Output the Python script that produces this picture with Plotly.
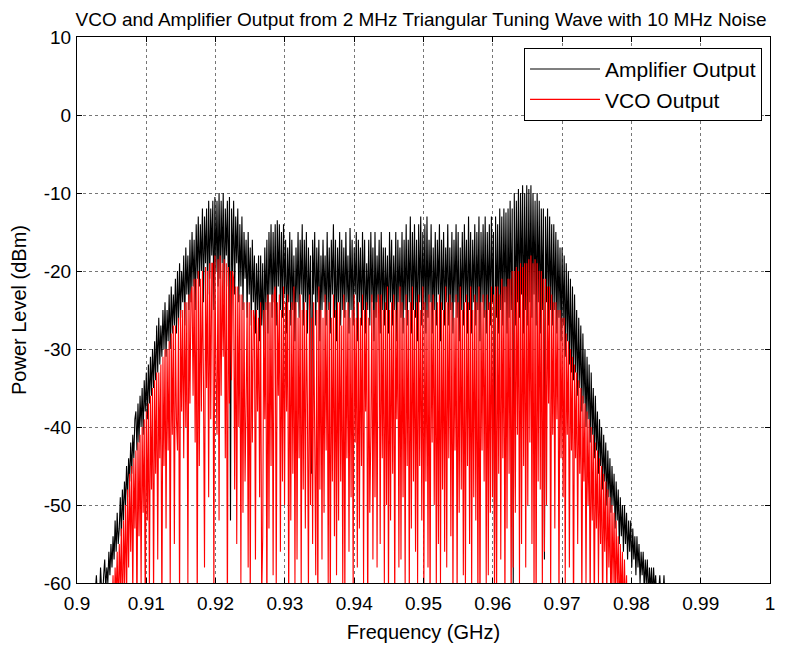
import plotly.graph_objects as go

# Frequency sampling (GHz)
amp_f0 = 0.9025
vco_f0 = 0.9046
f_step = 0.00015

# Amplifier output (dBm) (20 samples = 0.003 GHz per row)
amp_db = [
    -62, -61, -59, -62, -60, -62, -58, -61, -62, -59, -57, -61, -58, -60, -56, -59, -55, -58, -54, -57,
    -52, -56, -51, -55, -53, -49, -54, -48, -52, -47, -50, -45, -49, -44, -47, -42, -46, -41, -44, -39,
    -38, -43, -37, -42, -36, -40, -35, -41, -34, -38, -33, -39, -32, -37, -31, -36, -30, -35, -29, -34,
    -27, -33, -26, -32, -27, -31, -25, -30, -24, -31, -25, -29, -23, -30, -22, -28, -23, -27, -21, -28,
    -20, -27, -19, -26, -20, -24, -18, -27, -17, -23, -18, -25, -16, -24, -15, -22, -16, -25, -14, -21,
    -13, -22, -14, -20, -12, -24, -13, -19, -12, -23, -11, -21, -12, -18, -11, -25, -10.5, -20, -11, -22,
    -10, -21, -11, -19, -10, -24, -12, -18, -11, -22, -10.5, -52, -12, -20, -11, -23, -13, -19, -12, -24,
    -14, -22, -13, -25, -15, -21, -16, -26, -15, -23, -17, -27, -16, -24, -18, -28, -19, -25, -18, -29,
    -18, -27, -19, -30, -17, -25, -16, -28, -15, -23, -14, -26, -15, -24, -14, -27, -13.5, -22, -14, -25,
    -15, -26, -14, -23, -16, -28, -17, -24, -15, -27, -16, -25, -18, -29, -17, -24, -15, -26, -16, -23,
    -14, -27, -16, -24, -15, -28, -17, -25, -18, -46, -16, -23, -15, -27, -17, -24, -16, -29, -18, -25,
    -16, -24, -18, -27, -15, -25, -17, -28, -16, -23, -14, -26, -16, -29, -17, -24, -15, -27, -16, -25,
    -17, -26, -15, -24, -18, -28, -14.5, -25, -16, -27, -17, -23, -15, -29, -16, -24, -17, -27, -15, -25,
    -16, -28, -19, -25, -16, -27, -15, -24, -17, -29, -15, -26, -18, -24, -16, -28, -15, -25, -17, -27,
    -17, -25, -18, -28, -15, -24, -16, -27, -18, -25, -15, -29, -16, -24, -17, -26, -15, -28, -16, -25,
    -14, -27, -16, -24, -13, -28, -15, -25, -14, -26, -16, -29, -14, -24, -13, -27, -15, -25, -14, -28,
    -13, -26, -16, -24, -14, -28, -17, -25, -15, -27, -16, -23, -14, -29, -16, -25, -15, -27, -17, -24,
    -14, -27, -17, -25, -15, -28, -16, -24, -14, -26, -15, -29, -17, -25, -15, -27, -14, -24, -16, -28,
    -13, -25, -15, -28, -16, -24, -14, -27, -15, -25, -13, -29, -15, -24, -14, -26, -13, -28, -15, -25,
    -14, -27, -13, -24, -15, -55, -13, -26, -14, -28, -12, -25, -13, -27, -12, -24, -12.5, -28, -12, -26,
    -11, -25, -12, -60, -10, -27, -11, -24, -9.5, -26, -10, -23, -9, -28, -10, -25, -9, -27, -9.5, -24,
    -9, -26, -10, -23, -11, -27, -10, -24, -11, -28, -12, -25, -12, -57, -13, -24, -12, -27, -13, -25,
    -14, -27, -14, -25, -15, -28, -16, -26, -17, -29, -17, -27, -18, -31, -19, -29, -20, -32, -21, -33,
    -22, -34, -23, -33, -25, -36, -26, -35, -27, -38, -28, -37, -30, -40, -31, -39, -32, -42, -33, -41,
    -35, -44, -36, -43, -38, -46, -39, -45, -40, -48, -41, -47, -42, -50, -43, -49, -44, -51, -45, -50,
    -46, -53, -47, -52, -48, -55, -49, -54, -50, -56, -50, -55, -51, -57, -52, -56, -52, -58, -53, -57,
    -54, -59, -54, -58, -55, -60, -56, -59, -56, -61, -57, -60, -57, -62, -58, -61, -58, -62, -58, -61,
    -59, -62, -60, -61, -59, -62, -61, -62, -59, -62, -62, -61, -62,
]

# VCO output (dBm) (20 samples = 0.003 GHz per row)
vco_db = [
    -63, -66, -61, -64, -59, -65, -58, -62, -56, -64, -55, -61, -53, -66, -52, -60, -50, -63, -48, -58,
    -46, -56, -45, -62, -44, -53, -43, -65, -42, -54, -41, -60, -40, -51, -39, -64, -38, -52, -37, -61,
    -36, -48, -35, -62, -34, -46, -33, -57, -33, -44, -32, -65, -31, -45, -30, -53, -30, -43, -29, -60,
    -28, -41, -27, -55, -27, -39, -43, -26, -63, -25, -38, -25, -44, -24, -40, -24, -60, -23, -37, -23,
    -22, -36, -21, -42, -21, -64, -20, -45, -21, -38, -20, -34, -58, -19.5, -35, -20, -49, -19, -39, -19,
    -19, -62, -18, -33, -41, -18.5, -52, -18, -36, -19, -31, -18.5, -44, -19, -65, -19.5, -37, -20, -34, -20,
    -21, -48, -22, -55, -22, -40, -23, -60, -23, -51, -24, -47, -37, -24, -58, -24, -63, -25, -42, -25,
    -26, -57, -25, -38, -26, -49, -24, -62, -54, -25, -39, -24, -66, -23, -53, -24, -45, -23, -59, -23,
    -22, -61, -24, -36, -23, -56, -25, -47, -22, -50, -24, -38, -23, -64, -25, -52, -24, -46, -22, -60,
    -24, -57, -26, -44, -23, -61, -25, -48, -24, -53, -25, -37, -62, -23, -50, -26, -55, -24, -41, -59,
    -25, -65, -22, -48, -25, -57, -26, -51, -23, -43, -25, -60, -24, -65, -26, -47, -23, -54, -25, -59,
    -24, -52, -24, -47, -27, -61, -23, -63, -25, -44, -24, -56, -26, -49, -25, -61, -23, -42, -26, -58,
    -24, -53, -26, -45, -23, -60, -25, -38, -24, -66, -26, -51, -41, -23, -57, -25, -49, -24, -58, -23,
    -25, -55, -23, -44, -25, -60, -24, -50, -22, -63, -25, -52, -24, -46, -23, -64, -25, -39, -24, -58,
    -22, -57, -24, -49, -26, -61, -23, -45, -25, -62, -24, -53, -22, -47, -25, -56, -24, -60, -23, -45,
    -25, -52, -22, -63, -24, -47, -25, -58, -23, -65, -24, -42, -23, -50, -25, -61, -24, -55, -23, -60,
    -24, -48, -25, -56, -22, -58, -24, -44, -23, -54, -24, -62, -26, -43, -23, -63, -24, -51, -22, -48,
    -25, -59, -24, -61, -23, -45, -24, -55, -22, -61, -25, -49, -23, -52, -24, -64, -22, -66, -24, -43,
    -23, -47, -25, -60, -23, -59, -24, -51, -22, -49, -23, -63, -22, -62, -22, -46, -23, -57, -21, -44,
    -22, -64, -22, -53, -21, -46, -21, -64, -20, -58, -20, -51, -19.5, -41, -20, -60, -19, -55, -19.5, -45,
    -19, -58, -19, -50, -18.5, -42, -18, -55, -19, -62, -18.5, -65, -19, -47, -20, -48, -20, -61, -21, -56,
    -21, -50, -22, -37, -22, -62, -23, -41, -24, -53, -24, -39, -25, -64, -25, -44, -26, -49, -26, -60,
    -28, -41, -29, -58, -30, -43, -31, -66, -32, -44, -33, -55, -34, -46, -35, -63, -36, -47, -37, -60,
    -38, -50, -39, -63, -40, -52, -41, -65, -42, -53, -43, -60, -44, -55, -45, -64, -46, -56, -47, -62,
    -48, -58, -49, -66, -50, -60, -51, -64, -52, -61, -54, -66, -55, -63, -56, -65, -57, -64, -59, -66,
    -61,
]

x_ticks = [0.9, 0.91, 0.92, 0.93, 0.94, 0.95, 0.96, 0.97, 0.98, 0.99, 1.0]
x_tick_labels = ["0.9", "0.91", "0.92", "0.93", "0.94", "0.95", "0.96", "0.97", "0.98", "0.99", "1"]
y_ticks = [-60, -50, -40, -30, -20, -10, 0, 10]
y_tick_labels = ["-60", "-50", "-40", "-30", "-20", "-10", "0", "10"]

FONT = "Arial, Liberation Sans, sans-serif"

fig = go.Figure()
fig.add_trace(go.Scatter(
    x0=amp_f0, dx=f_step, y=amp_db, mode="lines", name="Amplifier Output",
    line=dict(color="black", width=1.1, simplify=False),
))
fig.add_trace(go.Scatter(
    x0=vco_f0, dx=f_step, y=vco_db, mode="lines", name="VCO Output",
    line=dict(color="red", width=1.1, simplify=False),
))

axis_common = dict(
    showline=True, linecolor="black", linewidth=1, mirror="ticks",
    ticks="inside", ticklen=5, tickcolor="black",
    showgrid=True, gridcolor="rgba(60,60,60,0.7)", griddash="dot", gridwidth=1,
    zeroline=False, automargin=False,
    tickfont=dict(family=FONT, size=19, color="black"),
)

fig.update_xaxes(
    range=[0.9, 1.0], tickvals=x_ticks, ticktext=x_tick_labels,
    ticklabelstandoff=3,
    title=dict(text="Frequency (GHz)", font=dict(family=FONT, size=20, color="black"), standoff=12),
    **axis_common,
)
fig.update_yaxes(
    range=[-60, 10], tickvals=y_ticks, ticktext=y_tick_labels,
    ticklabelstandoff=1,
    title=dict(text="Power Level (dBm)", font=dict(family=FONT, size=20, color="black"), standoff=11),
    **axis_common,
)

# page body has an 8px margin, so the figure is sized/offset to land the
# plot area at x 77..770, y 37..583 of the 803x649 window
fig.update_layout(
    width=795, height=641,
    margin=dict(l=69, r=33, t=29, b=66, autoexpand=False),
    paper_bgcolor="white", plot_bgcolor="white",
    title=dict(
        text="VCO and Amplifier Output from 2 MHz Triangular Tuning Wave with 10 MHz Noise",
        font=dict(family=FONT, size=19, color="black"),
        x=413 / 795, xanchor="center", y=1 - 11 / 641, yanchor="middle",
    ),
    legend=dict(
        x=0.9885, xanchor="right", y=0.98, yanchor="top",
        bgcolor="white", bordercolor="black", borderwidth=1,
        font=dict(family=FONT, size=21, color="black"),
        itemwidth=70, tracegroupgap=0,
    ),
    showlegend=True,
)

fig.write_html("out.html")
